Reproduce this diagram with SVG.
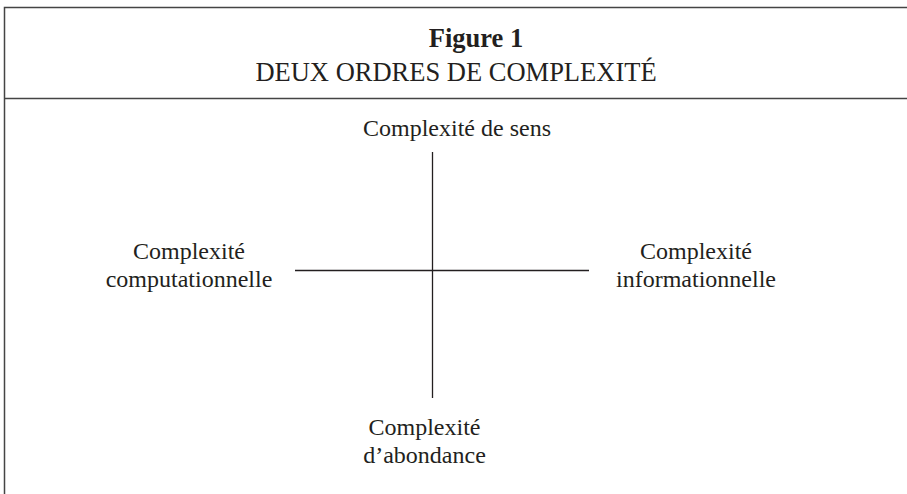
<svg xmlns="http://www.w3.org/2000/svg" width="907" height="494" viewBox="0 0 907 494">
<style>
text{font-family:"Liberation Serif","Times New Roman",serif;fill:#231f20;text-anchor:middle}
.t{font-size:26.5px}
.l{font-size:24px}
.ln{stroke:#231f20;stroke-width:1.3;fill:none}
.fr{stroke:#444;stroke-width:1.5;fill:none}
</style>
<rect width="907" height="494" fill="#fff"/>
<g id="frame">
<path class="fr" d="M4.5,500 V7.5 H910"/>
<line class="fr" x1="4" y1="98.5" x2="910" y2="98.5"/>
</g>
<g id="title">
<text class="t" x="476" y="47" font-weight="bold">Figure 1</text>
<text class="t" x="456" y="80.5">DEUX ORDRES DE COMPLEXITÉ</text>
</g>
<g id="connectors">
<line class="ln" x1="432.5" y1="152" x2="432.5" y2="398"/>
<line class="ln" x1="295" y1="270.5" x2="589" y2="270.5"/>
</g>
<g id="top"><text class="l" x="457" y="136">Complexité de sens</text></g>
<g id="left"><text class="l" x="189" y="259">Complexité</text><text class="l" x="189" y="287">computationnelle</text></g>
<g id="right"><text class="l" x="696" y="259">Complexité</text><text class="l" x="696" y="287">informationnelle</text></g>
<g id="bottom"><text class="l" x="424.5" y="435">Complexité</text><text class="l" x="424.5" y="463">d’abondance</text></g>
</svg>
